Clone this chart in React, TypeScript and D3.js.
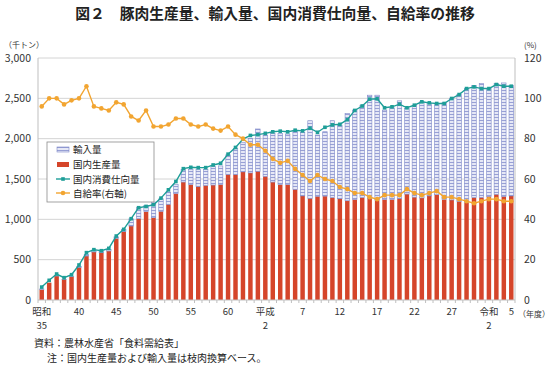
import * as d3 from "d3";

// 年度 (昭和35 = 1960 ... 令和5 = 2023)
const years = [
  1960, 1961, 1962, 1963, 1964, 1965, 1966, 1967, 1968, 1969,
  1970, 1971, 1972, 1973, 1974, 1975, 1976, 1977, 1978, 1979,
  1980, 1981, 1982, 1983, 1984, 1985, 1986, 1987, 1988, 1989,
  1990, 1991, 1992, 1993, 1994, 1995, 1996, 1997, 1998, 1999,
  2000, 2001, 2002, 2003, 2004, 2005, 2006, 2007, 2008, 2009,
  2010, 2011, 2012, 2013, 2014, 2015, 2016, 2017, 2018, 2019,
  2020, 2021, 2022, 2023,
];

// 国内生産量 (千トン)
const production = [
  130, 215, 297, 256, 289, 405, 545, 595, 586, 607,
  764, 847, 917, 1008, 1095, 1020, 1099, 1185, 1320, 1462,
  1430, 1405, 1420, 1425, 1430, 1555, 1555, 1588, 1575, 1595,
  1533, 1462, 1430, 1430, 1370, 1290, 1260, 1285, 1288, 1270,
  1255, 1230, 1245, 1270, 1255, 1235, 1245, 1245, 1258, 1313,
  1275, 1265, 1290, 1305, 1245, 1240, 1220, 1210, 1270, 1272,
  1284, 1310, 1284, 1290,
];

// 輸入量 (千トン)
const imports = [
  6, 0, 1, 1, 4, 10, 20, 22, 15, 17,
  20, 25, 90, 136, 78, 194, 156, 153, 111, 158,
  191, 216, 200, 230, 232, 245, 325, 368, 430, 525,
  512, 604, 636, 628, 725, 788, 962, 760, 798, 952,
  914, 1083, 1109, 1145, 1284, 1304, 1109, 1138, 1211, 1061,
  1140, 1192, 1154, 1131, 1200, 1258, 1327, 1410, 1390, 1411,
  1337, 1373, 1407, 1372,
];

// 国内消費仕向量 (千トン)
const consumption = [
  160, 244, 322, 277, 314, 434, 587, 624, 611, 640,
  793, 876, 1008, 1144, 1160, 1181, 1263, 1366, 1469, 1628,
  1645, 1641, 1641, 1674, 1695, 1808, 1891, 1994, 2040, 2050,
  2066, 2085, 2093, 2085, 2105, 2097, 2130, 2079, 2141, 2171,
  2178, 2235, 2350, 2405, 2490, 2494, 2383, 2395, 2428, 2383,
  2415, 2457, 2444, 2436, 2436, 2498, 2547, 2621, 2642, 2621,
  2621, 2671, 2650, 2650,
];

// 自給率 (%)
const selfRate = [
  96, 100, 100, 97, 99, 100, 106, 96, 95, 94,
  98, 97, 91, 89, 94, 86, 86, 87, 90, 90,
  87, 86, 87, 85, 84, 86, 82, 80, 77, 77,
  74, 70, 68, 69, 65, 62, 59, 62, 60, 59,
  56, 55, 53, 53, 51, 50, 52, 52, 52, 55,
  53, 52, 53, 54, 51, 51, 50, 49, 48, 49,
  50, 50, 49, 49,
];

const tickYears = [1960, 1965, 1970, 1975, 1980, 1985, 1990, 1995, 2000, 2005, 2010, 2015, 2020, 2023];
const tickLabels = [
  ["昭和", "35"], ["40"], ["45"], ["50"], ["55"], ["60"], ["平成", "2"],
  ["7"], ["12"], ["17"], ["22"], ["27"], ["令和", "2"], ["5"],
];
const leftTicks = [0, 500, 1000, 1500, 2000, 2500, 3000];
const rightTicks = [0, 20, 40, 60, 80, 100, 120];

const RED = "#D5452A";
const TEAL = "#1E9E98";
const ORANGE = "#F2A531";
const FONT = "'Noto Sans CJK JP', 'Noto Sans', sans-serif";

export default function App() {
  const W = 550;
  const H = 367;
  const left = 38;
  const right = 515;
  const top = 58;
  const bottom = 300;

  const x = d3.scaleBand<number>().domain(years).range([left, right]).paddingInner(0.4).paddingOuter(0.2);
  const y = d3.scaleLinear().domain([0, 3000]).range([bottom, top]);
  const yr = d3.scaleLinear().domain([0, 120]).range([bottom, top]);
  const bw = x.bandwidth();
  const cx = (yv: number) => (x(yv) as number) + bw / 2;

  const consLine = d3.line<number>().x((_, i) => cx(years[i])).y((d) => y(d));
  const rateLine = d3.line<number>().x((_, i) => cx(years[i])).y((d) => yr(d));

  const step = x.step();
  const catTicks = d3.range(years.length + 1).map((k) => left + k * step);

  const legX = 47;
  const legY = 142;
  const rows = [149.5, 164.5, 179, 193];

  return (
    <svg width={W} height={H} style={{ position: "absolute", left: 0, top: 0, background: "#fff" }} fontFamily={FONT}>
      <defs>
        <pattern id="imp" width="2.2" height="3" patternUnits="userSpaceOnUse">
          <rect width="2.2" height="3" fill="#E6E8F6" />
          <rect y="0" width="2.2" height="0.9" fill="#8F98D2" />
        </pattern>
      </defs>

      <text x={W / 2} y={19} textAnchor="middle" fontSize={14.8} fontWeight="bold" fill="#222">
        図２　豚肉生産量、輸入量、国内消費仕向量、自給率の推移
      </text>

      <text x={4} y={48} fontSize={8} fill="#333">（千トン）</text>
      <text x={524} y={48} fontSize={8} fill="#333">(%)</text>

      {leftTicks.map((t) => (
        <g key={"g" + t}>
          {t > 0 && <line x1={left} x2={right} y1={y(t)} y2={y(t)} stroke="#D4D4D4" strokeWidth={1} />}
          <text x={31} y={y(t) + 3.6} textAnchor="end" fontSize={10.5} fill="#333">
            {d3.format(",")(t)}
          </text>
        </g>
      ))}
      {rightTicks.map((t) => (
        <text key={"r" + t} x={524} y={yr(t) + 3.6} fontSize={10.5} fill="#333">
          {t}
        </text>
      ))}

      <line x1={left} x2={left} y1={top} y2={bottom} stroke="#BFBFBF" />
      <line x1={right} x2={right} y1={top} y2={bottom} stroke="#BFBFBF" />

      {years.map((yv, i) => {
        const p = production[i];
        const m = imports[i];
        return (
          <g key={yv}>
            <rect x={x(yv)} y={y(p)} width={bw} height={y(0) - y(p)} fill={RED} />
            {m > 0 && (
              <rect
                x={x(yv)}
                y={y(p + m)}
                width={bw}
                height={y(p) - y(p + m)}
                fill="url(#imp)"
                stroke="#7D88C8"
                strokeWidth={0.6}
              />
            )}
          </g>
        );
      })}

      <line x1={left} x2={right} y1={bottom} y2={bottom} stroke="#BFBFBF" />
      {catTicks.map((tx, k) => (
        <line key={"t" + k} x1={tx} x2={tx} y1={bottom} y2={bottom + 3} stroke="#BFBFBF" />
      ))}

      <path d={consLine(consumption) || ""} fill="none" stroke={TEAL} strokeWidth={1.4} />
      {consumption.map((d, i) => (
        <rect key={"c" + i} x={cx(years[i]) - 1.8} y={y(d) - 1.8} width={3.6} height={3.6} fill={TEAL} />
      ))}

      <path d={rateLine(selfRate) || ""} fill="none" stroke={ORANGE} strokeWidth={1.4} />
      {selfRate.map((d, i) => (
        <circle key={"s" + i} cx={cx(years[i])} cy={yr(d)} r={2.3} fill={ORANGE} />
      ))}

      {tickYears.map((ty, k) => (
        <text key={"x" + ty} x={cx(ty)} y={315} textAnchor="middle" fontSize={9.5} fill="#333">
          {tickLabels[k].map((s, j) => (
            <tspan key={j} x={cx(ty)} dy={j === 0 ? 0 : 14}>
              {s}
            </tspan>
          ))}
        </text>
      ))}
      <text x={518} y={316.5} fontSize={8} fill="#333">（年度）</text>

      <rect x={legX} y={legY} width={107} height={60} fill="#fff" stroke="#8C8C8C" strokeWidth={0.8} />
      <rect x={57} y={rows[0] - 2.5} width={12} height={5} fill="url(#imp)" stroke="#7D88C8" strokeWidth={0.6} />
      <rect x={57} y={rows[1] - 2.5} width={12} height={5} fill={RED} />
      <line x1={56} x2={70} y1={rows[2]} y2={rows[2]} stroke={TEAL} strokeWidth={1.4} />
      <rect x={61.2} y={rows[2] - 1.8} width={3.6} height={3.6} fill={TEAL} />
      <line x1={56} x2={70} y1={rows[3]} y2={rows[3]} stroke={ORANGE} strokeWidth={1.4} />
      <circle cx={63} cy={rows[3]} r={2.3} fill={ORANGE} />
      {["輸入量", "国内生産量", "国内消費仕向量", "自給率(右軸)"].map((s, k) => (
        <text key={s} x={73} y={rows[k] + 3.5} fontSize={9.5} fill="#222">
          {s}
        </text>
      ))}

      <text x={34} y={346.5} fontSize={10} fill="#222">資料：農林水産省「食料需給表」</text>
      <text x={47} y={361.5} fontSize={10} fill="#222">注：国内生産量および輸入量は枝肉換算ベース。</text>
    </svg>
  );
}
